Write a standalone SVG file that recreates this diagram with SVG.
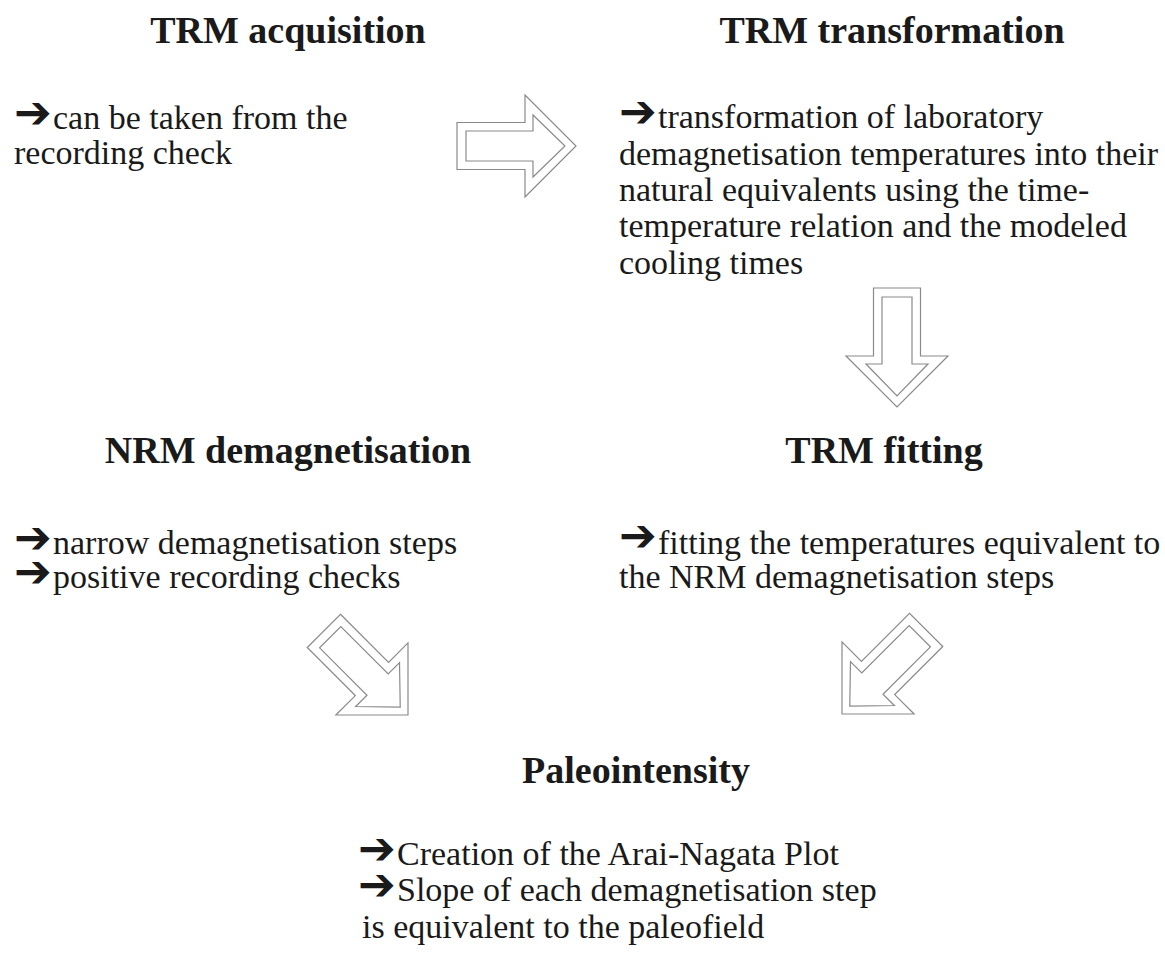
<svg xmlns="http://www.w3.org/2000/svg" xmlns:xlink="http://www.w3.org/1999/xlink" width="1165" height="956" viewBox="0 0 1165 956">
<style>
.t{font-family:"Liberation Serif","Times New Roman",serif;font-size:38px;font-weight:bold;fill:#1a1a1a;text-anchor:middle}
.b{font-family:"Liberation Serif","Times New Roman",serif;font-size:34px;fill:#1a1a1a}
.a{font-family:"DejaVu Sans",sans-serif;font-size:45px;font-weight:bold}
.blk{fill:none;stroke:#8a8a8a;stroke-width:1.2}
</style>
<defs>
<g id="blockArrow">
<polygon class="blk" points="-119,-23.5 -51,-23.5 -51,-51 0,0 -51,51 -51,23.5 -119,23.5"/>
<polygon class="blk" points="-110,-15 -43,-15 -43,-31 -11,0 -43,31 -43,15 -110,15"/>
</g>
</defs>
<rect width="1165" height="956" fill="#ffffff"/>
<g id="connectors">
<use xlink:href="#blockArrow" transform="translate(576,146)"/>
<use xlink:href="#blockArrow" transform="translate(897,407) rotate(90)"/>
<use xlink:href="#blockArrow" transform="translate(408,715) rotate(45)"/>
<use xlink:href="#blockArrow" transform="translate(842,714) rotate(135)"/>
</g>
<g id="trm-acquisition">
<text class="t" x="288" y="43">TRM acquisition</text>
<text class="b" x="14" y="129"><tspan class="a" y="128">➔</tspan><tspan x="53" y="129">can be taken from the</tspan><tspan x="14" y="164">recording check</tspan></text>
</g>
<g id="trm-transformation">
<text class="t" x="892" y="43">TRM transformation</text>
<text class="b" x="619" y="128"><tspan class="a" y="127">➔</tspan><tspan x="658" y="128">transformation of laboratory</tspan><tspan x="619" y="165">demagnetisation temperatures into their</tspan><tspan x="619" y="201">natural equivalents using the time-</tspan><tspan x="619" y="237">temperature relation and the modeled</tspan><tspan x="619" y="274">cooling times</tspan></text>
</g>
<g id="nrm-demagnetisation">
<text class="t" x="288" y="463">NRM demagnetisation</text>
<text class="b" x="14" y="554"><tspan class="a" x="14 14" y="553 587">➔➔</tspan><tspan x="53" y="554">narrow demagnetisation steps</tspan><tspan x="53" y="588">positive recording checks</tspan></text>
</g>
<g id="trm-fitting">
<text class="t" x="884" y="463">TRM fitting</text>
<text class="b" x="619" y="554"><tspan class="a" y="551">➔</tspan><tspan x="658" y="554">fitting the temperatures equivalent to</tspan><tspan x="619" y="588">the NRM demagnetisation steps</tspan></text>
</g>
<g id="paleointensity">
<text class="t" x="636" y="783">Paleointensity</text>
<text class="b" x="358" y="865"><tspan class="a" x="358 358" y="864 900">➔➔</tspan><tspan x="397" y="865">Creation of the Arai-Nagata Plot</tspan><tspan x="397" y="901">Slope  of each demagnetisation step</tspan><tspan x="362" y="938">is equivalent to the paleofield</tspan></text>
</g>
</svg>
